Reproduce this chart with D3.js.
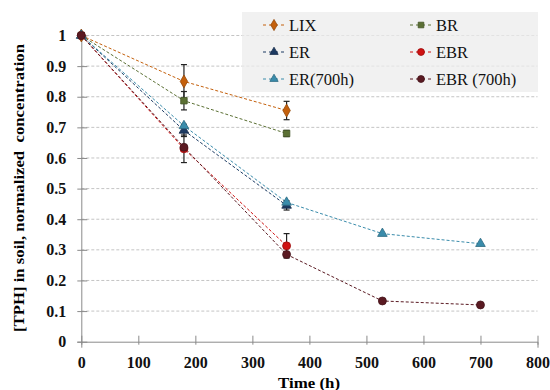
<!DOCTYPE html>
<html>
<head>
<meta charset="utf-8">
<script src="https://cdnjs.cloudflare.com/ajax/libs/d3/7.8.5/d3.min.js"></script>
<style>
  body { margin: 0; background: #fff; }
  svg text { font-family: "Liberation Serif", "Times New Roman", serif; }
</style>
</head>
<body>
<svg width="550" height="390"></svg>
<script>
// data
const seriesNames = ["LIX", "BR", "ER", "EBR", "ER(700h)", "EBR (700h)"]
const timesShort = [0, 180, 360]
const timesLong = [0, 180, 360, 528, 700]
const lixVals = [1, 0.85, 0.755]
const brVals = [1, 0.787, 0.68]
const erVals = [1, 0.69, 0.445]
const ebrVals = [1, 0.63, 0.313]
const er700Vals = [1, 0.705, 0.455, 0.353, 0.32]
const ebr700Vals = [1, 0.635, 0.285, 0.133, 0.12]
const lixErr = [0, 0.055, 0.03]
const brErr = [0, 0.03, 0.01]
const erErr = [0, 0.02, 0.015]
const ebrErr = [0, 0.045, 0.04]
const xTicks = [0, 100, 200, 300, 400, 500, 600, 700, 800]
const yTicks = [0, 0.1, 0.2, 0.3, 0.4, 0.5, 0.6, 0.7, 0.8, 0.9, 1]

const colors = ["#c4600c", "#5b7034", "#1d3b63", "#d01212", "#3a8cab", "#5a1a22"]
const shapes = [d3.symbolDiamond, d3.symbolSquare, d3.symbolTriangle, d3.symbolCircle, d3.symbolTriangle, d3.symbolCircle]
const sizes = [48, 42, 40, 50, 40, 50]

const series = [
  {t: timesShort, v: lixVals, e: lixErr},
  {t: timesShort, v: brVals, e: brErr},
  {t: timesShort, v: erVals, e: erErr},
  {t: timesShort, v: ebrVals, e: ebrErr},
  {t: timesLong, v: er700Vals},
  {t: timesLong, v: ebr700Vals}
].map((s, i) => ({...s, name: seriesNames[i], color: colors[i], shape: shapes[i], size: sizes[i]}))

const svg = d3.select("svg")
const x = d3.scaleLinear().domain([0, 800]).range([81.3, 537.5])
const y = d3.scaleLinear().domain([0, 1]).range([341.7, 35.5])

//gridlines
svg.append("g").selectAll("line").data(yTicks.slice(1)).enter().append("line")
  .attr("x1", x(0)).attr("x2", x(800))
  .attr("y1", d => y(d)).attr("y2", d => y(d))
  .attr("stroke", "#c4c4c4").attr("stroke-width", 1).attr("stroke-dasharray", "3,2")

//legend box (under the lines, semi transparent)
const lg = svg.append("g")
lg.append("rect").attr("x", 242).attr("y", 12).attr("width", 296).attr("height", 80)
  .attr("fill", "#ececec").attr("opacity", 0.75)

//axes
const xAxis = d3.axisBottom(x).tickValues(xTicks).tickSize(6).tickPadding(9)
const gx = svg.append("g").attr("transform", `translate(0,${y(0)})`).call(xAxis)
gx.selectAll(".tick line").attr("y1", -6).attr("y2", 3)
const yAxis = d3.axisLeft(y).tickValues(yTicks).tickSize(4).tickFormat(d => d == 0 || d == 1 ? d : d.toFixed(1)).tickPadding(11)
const gy = svg.append("g").attr("transform", `translate(${x(0)},0)`).call(yAxis)
gy.selectAll(".tick line").attr("x1", -4).attr("x2", 6)
svg.selectAll(".domain").attr("stroke", "#8a8a8a")
svg.selectAll(".tick line").attr("stroke", "#8a8a8a")
svg.selectAll(".tick text").attr("font-family", null).style("font-family", "Liberation Serif")
  .style("font-weight", "bold").style("font-size", "16px").attr("fill", "#111")

//lines
const line = d3.line().x(d => x(d[0])).y(d => y(d[1]))
series.forEach(s => {
  svg.append("path").datum(s.t.map((t, i) => [t, s.v[i]]))
    .attr("d", line).attr("fill", "none").attr("stroke", s.color)
    .attr("stroke-width", 1).attr("stroke-dasharray", "3,2")
})

//error bars
series.filter(s => s.e).forEach(s => {
  const g = svg.append("g")
  s.t.forEach((t, i) => {
    if (!s.e[i]) return
    g.append("line").attr("x1", x(t)).attr("x2", x(t))
      .attr("y1", y(s.v[i] - s.e[i])).attr("y2", y(s.v[i] + s.e[i])).attr("stroke", "#222").attr("stroke-width", 1.2)
    ;[s.v[i] - s.e[i], s.v[i] + s.e[i]].forEach(v => g.append("line")
      .attr("x1", x(t) - 3).attr("x2", x(t) + 3).attr("y1", y(v)).attr("y2", y(v))
      .attr("stroke", "#222").attr("stroke-width", 1.2))
  })
})

//markers
series.forEach(s => {
  svg.append("g").selectAll("path").data(s.t.map((t, i) => [t, s.v[i]])).enter().append("path")
    .attr("d", d3.symbol().type(s.shape).size(s.size))
    .attr("transform", d => `translate(${x(d[0])},${y(d[1])})`)
    .attr("fill", s.color).attr("stroke", d3.color(s.color).darker(0.8)).attr("stroke-width", 0.8)
})

//legend entries
const cols = [263, 410], rows = [25, 52, 79]
series.forEach((s, i) => {
  const lx = cols[i % 2], ly = rows[Math.floor(i / 2)]
  lg.append("line").attr("x1", lx).attr("x2", lx + 22).attr("y1", ly).attr("y2", ly)
    .attr("stroke", s.color).attr("stroke-width", 1).attr("stroke-dasharray", "3,3")
  lg.append("path").attr("d", d3.symbol().type(s.shape).size(s.size * 0.75))
    .attr("transform", `translate(${lx + 11},${ly})`)
    .attr("fill", s.color).attr("stroke", d3.color(s.color).darker(0.8)).attr("stroke-width", 0.8)
  lg.append("text").attr("x", lx + 26).attr("y", ly + 5.5).text(s.name)
    .style("font-size", "16.5px").attr("fill", "#111")
})

//axis titles
svg.append("text").attr("x", 278).attr("y", 388)
  .style("font-weight", "bold").style("font-size", "15px")
  .attr("textLength", 62).attr("lengthAdjust", "spacingAndGlyphs").text("Time (h)")
svg.append("text").attr("transform", "translate(24,332) rotate(-90)")
  .style("font-weight", "bold").style("font-size", "15px").style("white-space", "pre")
  .attr("textLength", 288).attr("lengthAdjust", "spacingAndGlyphs")
  .text("[TPH] in soil, normalized  concentration")
</script>
</body>
</html>
